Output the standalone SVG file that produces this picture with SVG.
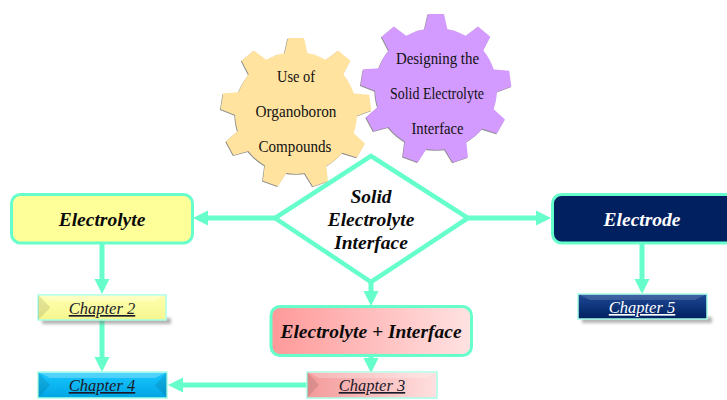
<svg xmlns="http://www.w3.org/2000/svg" xmlns:xlink="http://www.w3.org/1999/xlink" width="727" height="400" viewBox="0 0 727 400">
<style>
text{font-family:"Liberation Serif","Times New Roman",serif;text-anchor:middle}
.t{font-weight:bold;font-style:italic;font-size:19.500px;fill:#0a0a0a}
.c{font-style:italic;font-size:16.500px;text-decoration:underline;fill:#1a1a2a}
.g{font-size:17.500px;fill:#111}
.box{stroke:#66FFCC;stroke-width:3}
.conn{fill:none;stroke:#66FFCC;stroke-width:5}
.chap{stroke:#A8FFE6;stroke-width:1.5}
.hl{fill:#fff;opacity:.25}
.dk{fill:#000;opacity:.1}
.sh{fill:#777;opacity:.55;filter:url(#blur)}
</style>
<defs>
<filter id="blur" x="-10%" y="-50%" width="120%" height="200%"><feGaussianBlur stdDeviation="1.5"/></filter>
<linearGradient id="pink" x1="0" x2="1" y1="0" y2="0"><stop offset="0" stop-color="#FF9999"/><stop offset="1" stop-color="#FFE2E2"/></linearGradient>
<linearGradient id="pink2" x1="0" x2="1" y1="0" y2="0"><stop offset="0" stop-color="#F49A9A"/><stop offset="1" stop-color="#FFE0E0"/></linearGradient>
<linearGradient id="navy" x1="0" x2="0" y1="0" y2="1"><stop offset="0" stop-color="#1F4A96"/><stop offset="1" stop-color="#002060"/></linearGradient>
<linearGradient id="blue" x1="0" x2="0" y1="0" y2="1"><stop offset="0" stop-color="#19C8FF"/><stop offset="1" stop-color="#00A4E4"/></linearGradient>
<linearGradient id="yel" x1="0" x2="0" y1="0" y2="1"><stop offset="0" stop-color="#FFFFB0"/><stop offset="1" stop-color="#F6F68E"/></linearGradient>
<marker id="arrow" markerUnits="userSpaceOnUse" markerWidth="16" markerHeight="16" refX="2" refY="8" orient="auto"><path d="M0,0.5 L15,8 L0,15.5 z" fill="#66FFCC"/></marker>
<path id="tooth" d="M-12.500,-55 L-8,-75 L8,-75 L12.500,-55 z"/>
<g id="teeth">
<use xlink:href="#tooth"/>
<use xlink:href="#tooth" transform="rotate(40)"/>
<use xlink:href="#tooth" transform="rotate(82)"/>
<use xlink:href="#tooth" transform="rotate(120)"/>
<use xlink:href="#tooth" transform="rotate(161)"/>
<use xlink:href="#tooth" transform="rotate(200)"/>
<use xlink:href="#tooth" transform="rotate(242)"/>
<use xlink:href="#tooth" transform="rotate(279)"/>
<use xlink:href="#tooth" transform="rotate(320)"/>
<circle r="61"/>
</g>
</defs>

<g id="gear-organoboron">
<use xlink:href="#teeth" transform="translate(295.3,113.8)" fill="#8a8a8a"/>
<use xlink:href="#teeth" transform="translate(296,113)" fill="#FFE39F"/>
<text class="g" x="296" y="82" textLength="38" lengthAdjust="spacingAndGlyphs">Use of</text>
<text class="g" x="296" y="117" textLength="81" lengthAdjust="spacingAndGlyphs">Organoboron</text>
<text class="g" x="295" y="152" textLength="73" lengthAdjust="spacingAndGlyphs">Compounds</text>
</g>
<g id="gear-designing">
<use xlink:href="#teeth" transform="translate(435.3,89.8)" fill="#8a8a8a"/>
<use xlink:href="#teeth" transform="translate(436,89)" fill="#D39BFF"/>
<text class="g" x="437.500" y="64" textLength="83" lengthAdjust="spacingAndGlyphs">Designing the</text>
<text class="g" x="437" y="99" textLength="94" lengthAdjust="spacingAndGlyphs">Solid Electrolyte</text>
<text class="g" x="437.500" y="134" textLength="52" lengthAdjust="spacingAndGlyphs">Interface</text>
</g>

<g id="connectors">
<path class="conn" d="M275,218 H206" marker-end="url(#arrow)"/>
<path class="conn" d="M468,218 H538" marker-end="url(#arrow)"/>
<path class="conn" d="M102,243 V281" marker-end="url(#arrow)"/>
<path class="conn" d="M102,320 V359" marker-end="url(#arrow)"/>
<path class="conn" d="M371,283 V293" marker-end="url(#arrow)"/>
<path class="conn" d="M371,356 V360" marker-end="url(#arrow)"/>
<path class="conn" d="M307,385 H181" marker-end="url(#arrow)"/>
<path class="conn" d="M642,243 V281" marker-end="url(#arrow)"/>
</g>

<g id="node-sei">
<polygon points="371,156 468,218 371,282 275,218" fill="#fff" stroke="#66FFCC" stroke-width="4.500"/>
<text class="t" x="371" y="203">Solid</text>
<text class="t" x="371" y="226">Electrolyte</text>
<text class="t" x="371" y="249">Interface</text>
</g>
<g id="node-electrolyte">
<rect class="box" x="11.500" y="194.500" width="181" height="48.500" rx="9" fill="#FFFF99"/>
<text class="t" x="102" y="226">Electrolyte</text>
</g>
<g id="node-electrode">
<rect class="box" x="552.500" y="194.500" width="190" height="48.500" rx="9" fill="#002060"/>
<text class="t" x="642" y="226" style="fill:#fff">Electrode</text>
</g>
<g id="node-electrolyte-interface">
<rect class="box" x="271" y="306.500" width="200.500" height="49" rx="9" fill="url(#pink)"/>
<text class="t" x="371" y="338">Electrolyte + Interface</text>
</g>

<g id="node-chapter2">
<rect class="sh" x="42" y="318" width="129" height="6"/>
<rect class="chap" x="38" y="295" width="128" height="25" fill="url(#yel)"/>
<polygon class="dk" points="38,295 50,307 50,308 38,320"/>
<polygon class="hl" points="38,295 166,295 154,301 50,301"/>
<text class="c" x="102" y="314">Chapter 2</text>
</g>
<g id="node-chapter4">
<rect class="chap" x="38" y="372" width="129" height="26" fill="url(#blue)"/>
<polygon class="dk" points="167,372 155,385 167,398"/>
<polygon class="dk" points="38,372 50,385 38,398"/>
<polygon class="hl" points="38,372 167,372 155,378 50,378"/>
<text class="c" x="102" y="391">Chapter 4</text>
</g>
<g id="node-chapter3">
<rect class="chap" x="307" y="372" width="130" height="26" fill="url(#pink2)"/>
<polygon class="dk" points="307,372 319,385 307,398"/>
<polygon class="hl" points="307,372 437,372 425,378 319,378"/>
<text class="c" x="372" y="391">Chapter 3</text>
</g>
<g id="node-chapter5">
<rect class="sh" x="582" y="317" width="130" height="6"/>
<rect class="chap" x="578" y="294" width="129" height="25" fill="url(#navy)"/>
<polygon class="hl" points="578,294 707,294 695,300 590,300" style="opacity:.15"/>
<text class="c" x="642" y="313" style="fill:#fff">Chapter 5</text>
</g>
</svg>
